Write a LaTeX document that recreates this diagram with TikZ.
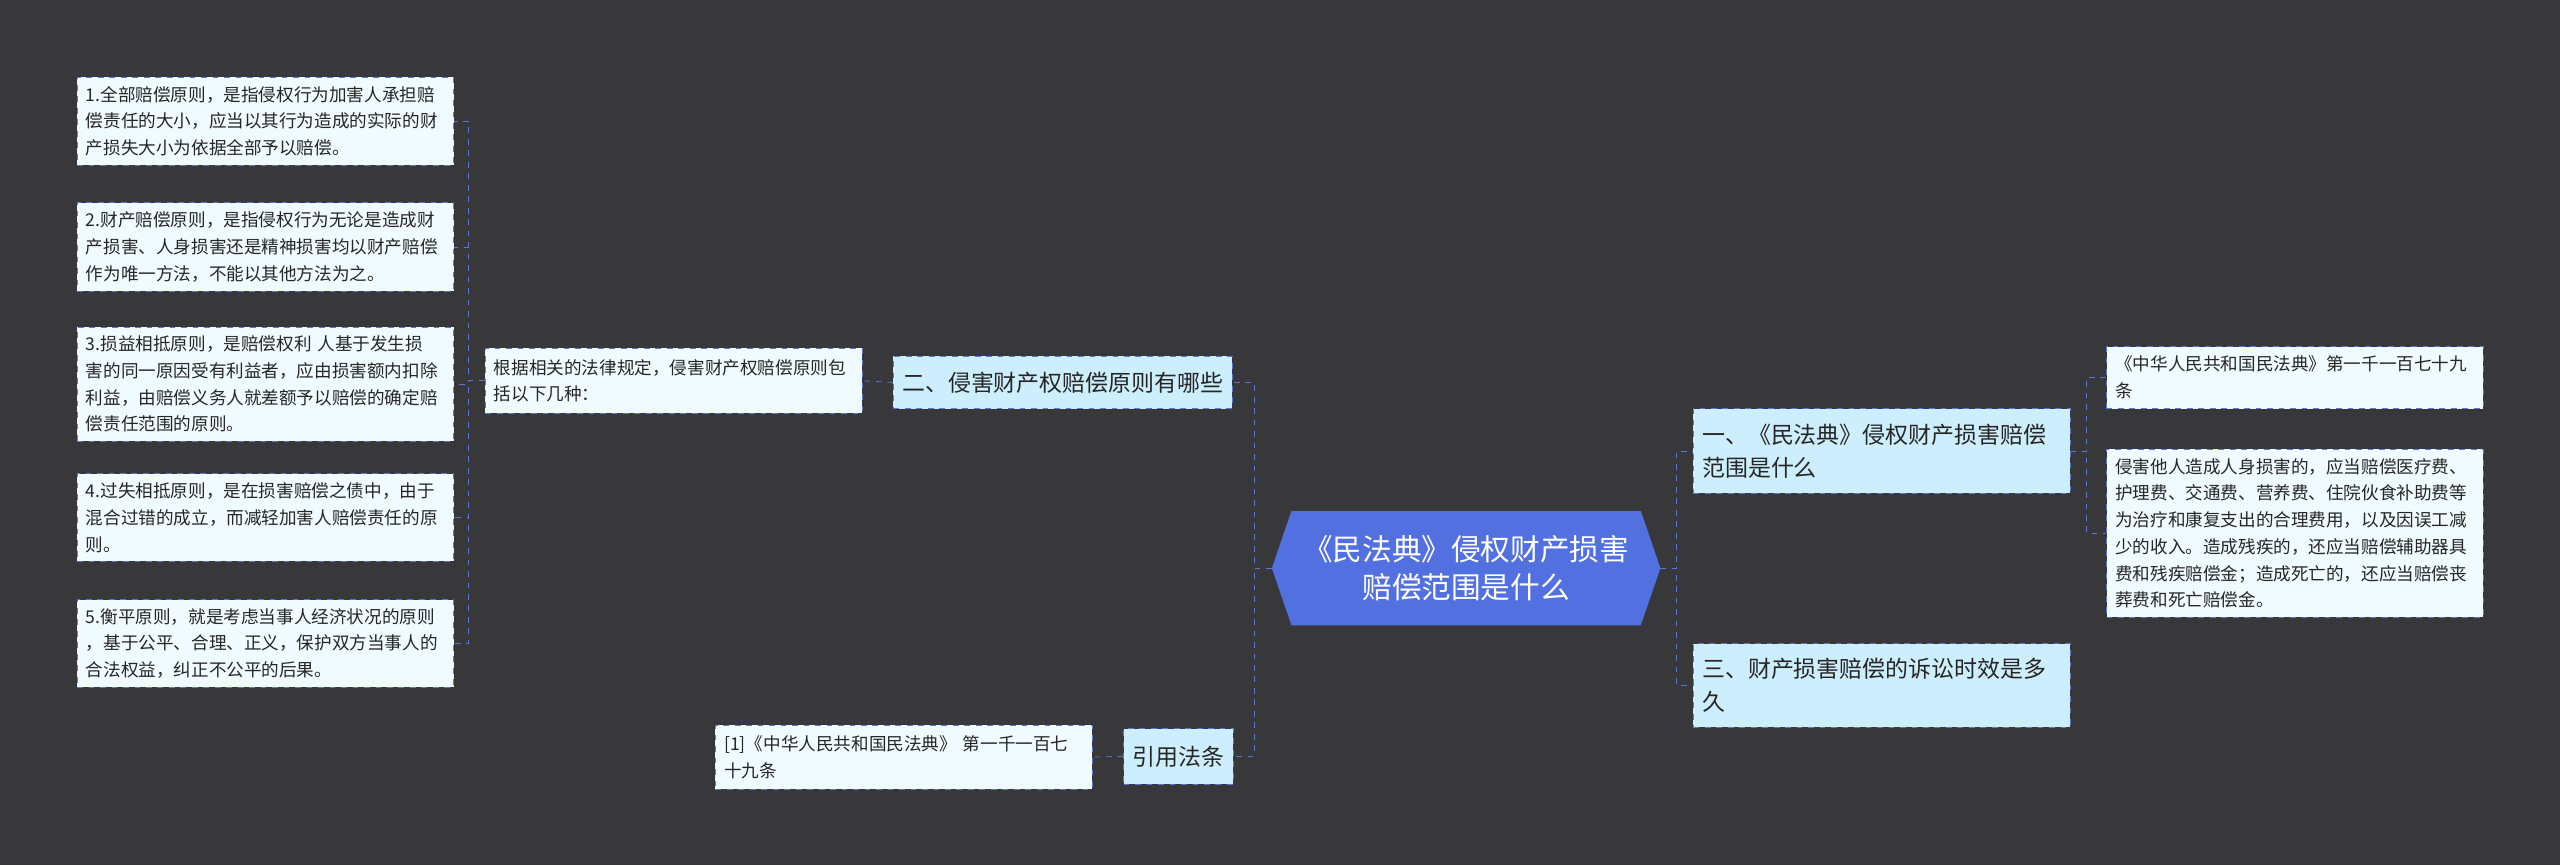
\documentclass[tikz,border=0pt]{standalone}
\usepackage{fontspec}
\setmainfont{Noto Sans CJK SC}
\usetikzlibrary{positioning}
\definecolor{bgcol}{RGB}{56,56,58}
\definecolor{linecol}{RGB}{92,120,214}
\definecolor{rootcol}{RGB}{82,112,224}
\definecolor{branchcol}{RGB}{205,238,252}
\definecolor{leafcol}{RGB}{240,251,255}
\begin{document}
\begin{tikzpicture}
  [
    x=0.3mm, y=-0.3mm,
    leaf/.style={draw=linecol,dashed,fill=leafcol,text=black!85,align=left,
      text width=66mm,inner sep=1.6mm,font=\fontsize{9.2}{14}\selectfont,anchor=north west},
    branch/.style={draw=linecol,dashed,fill=branchcol,text=black!85,align=left,
      inner sep=1.6mm,font=\fontsize{12}{17}\selectfont,anchor=north west},
    link/.style={draw=linecol,dashed,thin},
  ]
  \fill[bgcol] (0,0) rectangle (1568,530);
  \useasboundingbox (0,0) rectangle (1568,530);

  % root
  \coordinate (rw) at (779,348);
  \coordinate (re) at (1017,348);
  \fill[rootcol] (rw) -- (791,313) -- (1005,313) -- (re) -- (1005,383) -- (791,383) -- cycle;
  \node(root)[text=white,align=center,font=\fontsize{15.5}{20}\selectfont] at (898,348)
    {《民法典》侵权财产损害\\赔偿范围是什么};

  % right side
  \node(r1)[branch,text width=66mm,minimum height=52*0.3mm] at (1037,250)
    {一、《民法典》侵权财产损害赔偿\\范围是什么};
  \node(r3)[branch,text width=66mm,minimum height=51*0.3mm] at (1037,394)
    {三、财产损害赔偿的诉讼时效是多\\久};
  \node(r1a)[leaf,minimum height=38*0.3mm] at (1290,212)
    {《中华人民共和国民法典》第一千一百七十九\\条};
  \node(r1b)[leaf,minimum height=95*0.3mm] at (1290,275)
    {侵害他人造成人身损害的，应当赔偿医疗费、\\护理费、交通费、营养费、住院伙食补助费等\\为治疗和康复支出的合理费用，以及因误工减\\少的收入。造成残疾的，还应当赔偿辅助器具\\费和残疾赔偿金；造成死亡的，还应当赔偿丧\\葬费和死亡赔偿金。};

  % left side
  \node(l2)[branch,minimum height=32*0.3mm] at (547,218) {二、侵害财产权赔偿原则有哪些};
  \node(l2a)[leaf,minimum height=40*0.3mm] at (297,213)
    {根据相关的法律规定，侵害财产权赔偿原则包\\括以下几种：};
  \node(p1)[leaf,minimum height=54*0.3mm] at (47,47)
    {1.全部赔偿原则，是指侵权行为加害人承担赔\\偿责任的大小，应当以其行为造成的实际的财\\产损失大小为依据全部予以赔偿。};
  \node(p2)[leaf,minimum height=54*0.3mm] at (47,124)
    {2.财产赔偿原则，是指侵权行为无论是造成财\\产损害、人身损害还是精神损害均以财产赔偿\\作为唯一方法，不能以其他方法为之。};
  \node(p3)[leaf,minimum height=69*0.3mm] at (47,200)
    {3.损益相抵原则，是赔偿权利 人基于发生损\\害的同一原因受有利益者，应由损害额内扣除\\利益，由赔偿义务人就差额予以赔偿的确定赔\\偿责任范围的原则。};
  \node(p4)[leaf,minimum height=53*0.3mm] at (47,290)
    {4.过失相抵原则，是在损害赔偿之债中，由于\\混合过错的成立，而减轻加害人赔偿责任的原\\则。};
  \node(p5)[leaf,minimum height=53*0.3mm] at (47,367)
    {5.衡平原则，就是考虑当事人经济状况的原则\\，基于公平、合理、正义，保护双方当事人的\\合法权益，纠正不公平的后果。};
  \node(l4)[branch,minimum height=34*0.3mm] at (688,446) {引用法条};
  \node(l4a)[leaf,minimum height=39*0.3mm] at (438,444)
    {[1]《中华人民共和国民法典》 第一千一百七\\十九条};

  % connectors
  \draw[link] (rw) -- ++(-11,0) |- (l2.east);
  \draw[link] (rw) -- ++(-11,0) |- (l4.east);
  \draw[link] (re) -- ++(10,0) |- (r1.west);
  \draw[link] (re) -- ++(10,0) |- (r3.west);
  \draw[link] (r1.east) -- ++(10,0) |- (r1a.west);
  \draw[link] (r1.east) -- ++(10,0) |- (r1b.west);
  \draw[link] (l2.west) -- (l2a.east);
  \draw[link] (l4.west) -- (l4a.east);
  \foreach \p in {p1,p2,p3,p4,p5}
    \draw[link] (l2a.west) -- ++(-10,0) |- (\p.east);
\end{tikzpicture}
\end{document}
